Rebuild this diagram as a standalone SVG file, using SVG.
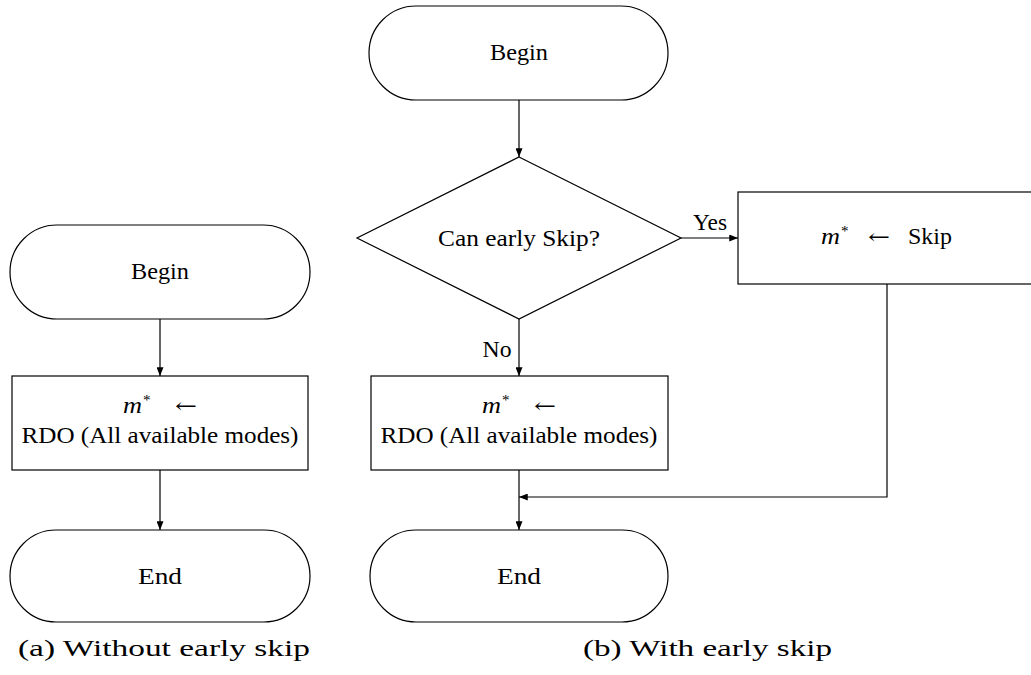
<svg xmlns="http://www.w3.org/2000/svg" width="1031" height="675" viewBox="0 0 1031 675">
  <style>
    .shape { fill: #ffffff; stroke: #000000; stroke-width: 1.2; }
    .edge { fill: none; stroke: #000000; stroke-width: 1.2; }
    .lbl { font-size: 23.5px; text-anchor: middle; }
    .m { font-size: 24px; font-style: italic; }
    .star { font-size: 15px; }
    .larr { font-size: 21px; font-family: "DejaVu Serif", serif; }
    .cap { font-size: 23px; }
  </style>
  <defs>
    <marker id="arrow" viewBox="0 0 10 8" refX="10" refY="4" markerWidth="9" markerHeight="7" markerUnits="userSpaceOnUse" orient="auto">
      <path d="M0,0 L10,4 L0,8 Z" fill="#000000"/>
    </marker>
  </defs>
  <rect width="1031" height="675" fill="#ffffff"/>

  <g font-family="'Liberation Serif', 'DejaVu Serif', serif" fill="#000000">
    <!-- (a) flow without early skip -->
    <g id="a-begin">
      <rect class="shape" x="10" y="225" width="300" height="94" rx="47" ry="47"/>
      <text class="lbl" x="160" y="279" textLength="58" lengthAdjust="spacingAndGlyphs">Begin</text>
    </g>
    <g id="a-rdo">
      <rect class="shape" x="12" y="376" width="296" height="94"/>
      <text class="m" x="123" y="413" textLength="19" lengthAdjust="spacingAndGlyphs">m</text>
      <text class="star" x="143" y="405">*</text>
      <text class="larr" x="175" y="413" textLength="22" lengthAdjust="spacingAndGlyphs">←</text>
      <text class="lbl" x="160" y="443" textLength="277" lengthAdjust="spacingAndGlyphs">RDO (All available modes)</text>
    </g>
    <g id="a-end">
      <rect class="shape" x="10" y="530" width="300" height="92" rx="46" ry="46"/>
      <text class="lbl" x="160" y="584" textLength="44" lengthAdjust="spacingAndGlyphs">End</text>
    </g>

    <!-- (b) flow with early skip -->
    <g id="b-begin">
      <rect class="shape" x="369" y="6" width="299" height="94" rx="47" ry="47"/>
      <text class="lbl" x="519" y="60" textLength="58" lengthAdjust="spacingAndGlyphs">Begin</text>
    </g>
    <g id="b-decision">
      <polygon class="shape" points="519,157 681,238 519,319 357,238"/>
      <text class="lbl" x="519" y="246" textLength="162" lengthAdjust="spacingAndGlyphs">Can early Skip?</text>
    </g>
    <g id="b-skip">
      <rect class="shape" x="738" y="192" width="298" height="92"/>
      <text class="m" x="821" y="244" textLength="19" lengthAdjust="spacingAndGlyphs">m</text>
      <text class="star" x="841" y="236">*</text>
      <text class="larr" x="868" y="244" textLength="22" lengthAdjust="spacingAndGlyphs">←</text>
      <text x="908" y="244" font-size="23.5" textLength="44" lengthAdjust="spacingAndGlyphs">Skip</text>
    </g>
    <g id="b-rdo">
      <rect class="shape" x="371" y="376" width="297" height="94"/>
      <text class="m" x="482" y="413" textLength="19" lengthAdjust="spacingAndGlyphs">m</text>
      <text class="star" x="502" y="405">*</text>
      <text class="larr" x="534" y="413" textLength="22" lengthAdjust="spacingAndGlyphs">←</text>
      <text class="lbl" x="519" y="443" textLength="277" lengthAdjust="spacingAndGlyphs">RDO (All available modes)</text>
    </g>
    <g id="b-end">
      <rect class="shape" x="370" y="530" width="298" height="92" rx="46" ry="46"/>
      <text class="lbl" x="519" y="584" textLength="44" lengthAdjust="spacingAndGlyphs">End</text>
    </g>

    <!-- connectors -->
    <g id="connectors">
      <line class="edge" x1="160" y1="319" x2="160" y2="376" marker-end="url(#arrow)"/>
      <line class="edge" x1="160" y1="470" x2="160" y2="530" marker-end="url(#arrow)"/>
      <line class="edge" x1="519" y1="100" x2="519" y2="157" marker-end="url(#arrow)"/>
      <line class="edge" x1="681" y1="238" x2="738" y2="238" marker-end="url(#arrow)"/>
      <text class="lbl" x="710" y="230" textLength="34" lengthAdjust="spacingAndGlyphs">Yes</text>
      <line class="edge" x1="519" y1="319" x2="519" y2="376" marker-end="url(#arrow)"/>
      <text class="lbl" x="497" y="357" textLength="29" lengthAdjust="spacingAndGlyphs">No</text>
      <line class="edge" x1="519" y1="470" x2="519" y2="530" marker-end="url(#arrow)"/>
      <polyline class="edge" points="887,284 887,497 519,497" marker-end="url(#arrow)"/>
    </g>

    <!-- captions -->
    <text class="cap" x="18" y="656" textLength="292" lengthAdjust="spacingAndGlyphs">(a) Without early skip</text>
    <text class="cap" x="583" y="656" textLength="249" lengthAdjust="spacingAndGlyphs">(b) With early skip</text>
  </g>
</svg>
